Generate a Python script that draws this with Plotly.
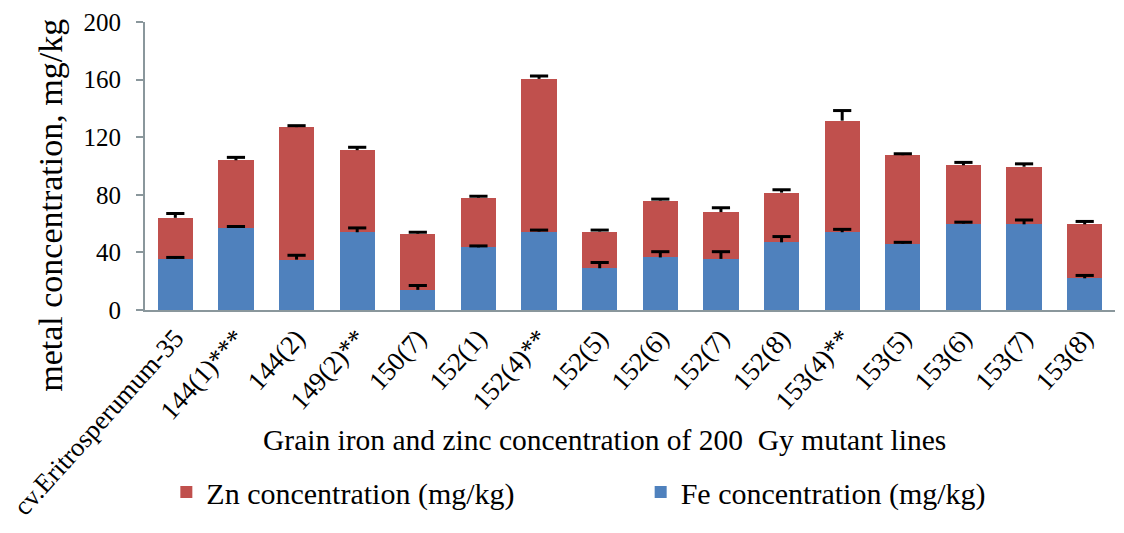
import plotly.graph_objects as go

categories = ["cv.Eritrosperumum-35", "144(1)***", "144(2)", "149(2)**", "150(7)", "152(1)",
              "152(4)**", "152(5)", "152(6)", "152(7)", "152(8)", "153(4)**", "153(5)",
              "153(6)", "153(7)", "153(8)"]
fe_values = [35.5, 57, 35, 54, 14, 43.5, 54.5, 29, 36.5, 35.5, 47, 54, 46, 60, 59.5, 22]
zn_values = [28.5, 47, 92, 57, 39, 34.5, 106, 25.5, 39.5, 32.5, 34.5, 77.5, 61.5, 40.5, 40, 37.5]
fe_err = [1, 1, 3, 3, 3, 1, 1, 4, 4, 5, 4, 2, 1, 1, 3, 2]
zn_err = [3, 2, 1, 2, 1, 1, 2, 1, 1, 3, 2, 7, 1, 2, 2, 2]

y_ticks = [0, 40, 80, 120, 160, 200]

SERIF = "Liberation Serif, Times New Roman, serif"
BLUE = "#4F81BD"
RED = "#C0504D"
AXIS = "#8a979c"

fig = go.Figure()
fig.add_trace(go.Bar(
    x=categories, y=fe_values, name="Fe concentration (mg/kg)", legend="legend2",
    marker=dict(color=BLUE, line=dict(width=0)),
))
fig.add_trace(go.Bar(
    x=categories, y=zn_values, name="Zn concentration (mg/kg)", legend="legend",
    marker=dict(color=RED, line=dict(width=0)),
))

# one-sided "T" error bars: stem from error bar (no caps) + cap as a line marker
bar_tops = [fe_values, [f + z for f, z in zip(fe_values, zn_values)]]
errors = [fe_err, zn_err]
for tops, err in zip(bar_tops, errors):
    fig.add_trace(go.Scatter(
        x=categories, y=[t + e for t, e in zip(tops, err)], mode="markers",
        marker=dict(symbol="line-ew", size=13, line=dict(color="black", width=3)),
        showlegend=False, hoverinfo="skip",
        error_y=dict(type="data", array=[0] * len(err), arrayminus=err, symmetric=False,
                     color="black", thickness=3, width=0),
    ))

legend_common = dict(orientation="h", y=-0.632, yanchor="middle", xanchor="left",
                     font=dict(size=30, family=SERIF, color="black"),
                     bgcolor="rgba(0,0,0,0)", borderwidth=0, itemclick=False)

# the page body has an 8px margin, so the figure is sized/offset to compensate
fig.update_layout(
    width=1116, height=525,
    barmode="stack", bargap=0.42,
    paper_bgcolor="white", plot_bgcolor="white",
    margin=dict(l=137, r=9, t=14, b=223, autoexpand=False),
    font=dict(family=SERIF, color="black", size=24),
    showlegend=True,
    legend=dict(x=0.022, **legend_common),
    legend2=dict(x=0.511, **legend_common),
    xaxis=dict(range=[-0.5, len(categories) - 0.5], showline=True, linecolor=AXIS,
               linewidth=2, ticks="", tickangle=-48, tickfont=dict(size=26.5, family=SERIF),
               showgrid=False, automargin=False),
    yaxis=dict(range=[0, 200], tickvals=y_ticks, showline=True, linecolor=AXIS,
               linewidth=2, ticks="outside", ticklen=7, tickcolor=AXIS, tickwidth=2,
               ticklabelstandoff=10,
               tickfont=dict(size=25, family=SERIF), showgrid=False, zeroline=False,
               automargin=False),
    annotations=[
        dict(text="metal concentration, mg/kg", xref="paper", yref="paper",
             x=-0.097, y=0.365, xanchor="center", yanchor="middle", textangle=-90,
             showarrow=False, font=dict(size=34, family=SERIF)),
        dict(text="Grain iron and zinc concentration of 200  Gy mutant lines", xref="paper",
             yref="paper", x=0.474, y=-0.451, xanchor="center", yanchor="middle",
             showarrow=False, font=dict(size=29.5, family=SERIF)),
    ],
)

fig.write_html("out.html")
